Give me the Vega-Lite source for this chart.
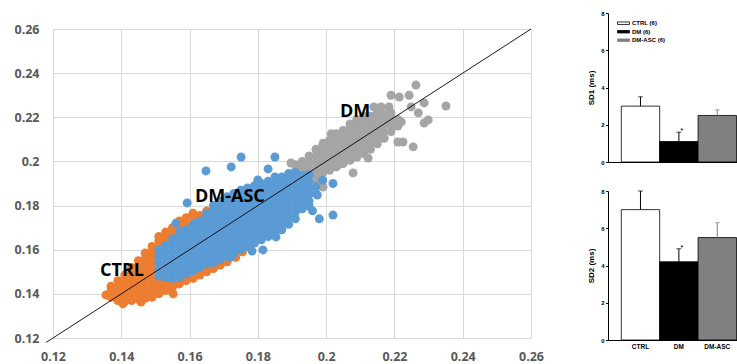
{
  "$schema": "https://vega.github.io/schema/vega-lite/v6.json",
  "autosize": {"type": "pad"},
  "padding": {"left": 13, "top": 10, "right": 0, "bottom": 0},
  "background": "white",
  "config": {"view": {"stroke": null}, "font": "Liberation Sans", "axis": {"labelOverlap": false, "labelBound": false}},
  "datasets": {
    "ctrl": [
      {"x":0.1355,"y":0.1395},
      {"x":0.137,"y":0.1385},{"x":0.137,"y":0.1415},{"x":0.137,"y":0.1435},
      {"x":0.139,"y":0.137},{"x":0.139,"y":0.14},{"x":0.139,"y":0.143},{"x":0.139,"y":0.146},
      {"x":0.141,"y":0.1365},{"x":0.141,"y":0.1395},{"x":0.141,"y":0.1425},{"x":0.141,"y":0.1455},{"x":0.141,"y":0.1485},
      {"x":0.143,"y":0.137},{"x":0.143,"y":0.14},{"x":0.143,"y":0.143},{"x":0.143,"y":0.146},{"x":0.143,"y":0.149},{"x":0.143,"y":0.152},
      {"x":0.145,"y":0.1375},{"x":0.145,"y":0.1405},{"x":0.145,"y":0.1435},{"x":0.145,"y":0.1465},{"x":0.145,"y":0.1495},{"x":0.145,"y":0.1525},{"x":0.145,"y":0.155},
      {"x":0.147,"y":0.138},{"x":0.147,"y":0.141},{"x":0.147,"y":0.144},{"x":0.147,"y":0.147},{"x":0.147,"y":0.15},{"x":0.147,"y":0.153},{"x":0.147,"y":0.156},{"x":0.147,"y":0.1585},
      {"x":0.149,"y":0.1385},{"x":0.149,"y":0.1415},{"x":0.149,"y":0.1445},{"x":0.149,"y":0.1475},{"x":0.149,"y":0.1505},{"x":0.149,"y":0.1535},{"x":0.149,"y":0.1565},{"x":0.149,"y":0.1595},{"x":0.149,"y":0.1615},
      {"x":0.151,"y":0.14},{"x":0.151,"y":0.143},{"x":0.151,"y":0.146},{"x":0.151,"y":0.161},{"x":0.151,"y":0.164},{"x":0.151,"y":0.166},
      {"x":0.153,"y":0.1415},{"x":0.153,"y":0.1445},{"x":0.153,"y":0.1635},{"x":0.153,"y":0.1665},{"x":0.153,"y":0.168},
      {"x":0.155,"y":0.143},{"x":0.155,"y":0.146},{"x":0.155,"y":0.1675},{"x":0.155,"y":0.17},
      {"x":0.157,"y":0.1445},{"x":0.157,"y":0.1705},{"x":0.157,"y":0.173},
      {"x":0.159,"y":0.146},{"x":0.159,"y":0.1715},{"x":0.159,"y":0.1745},
      {"x":0.161,"y":0.147},{"x":0.161,"y":0.1745},{"x":0.161,"y":0.1765},
      {"x":0.163,"y":0.1485},{"x":0.163,"y":0.1755},
      {"x":0.165,"y":0.15},{"x":0.165,"y":0.1775},
      {"x":0.167,"y":0.1515},{"x":0.169,"y":0.153},{"x":0.171,"y":0.1545},{"x":0.1735,"y":0.1565},{"x":0.1755,"y":0.159},{"x":0.1765,"y":0.1625},
      {"x":0.1552,"y":0.14},{"x":0.1405,"y":0.1355},{"x":0.1458,"y":0.1363}
    ],
    "dm": [
      {"x":0.191,"y":0.1955},{"x":0.191,"y":0.1985},
      {"x":0.193,"y":0.1945},{"x":0.193,"y":0.1975},{"x":0.193,"y":0.2},
      {"x":0.195,"y":0.1935},{"x":0.195,"y":0.1965},{"x":0.195,"y":0.1995},{"x":0.195,"y":0.2025},
      {"x":0.197,"y":0.1935},{"x":0.197,"y":0.1965},{"x":0.197,"y":0.1995},{"x":0.197,"y":0.2025},{"x":0.197,"y":0.2055},
      {"x":0.199,"y":0.195},{"x":0.199,"y":0.198},{"x":0.199,"y":0.201},{"x":0.199,"y":0.204},{"x":0.199,"y":0.207},
      {"x":0.201,"y":0.196},{"x":0.201,"y":0.199},{"x":0.201,"y":0.202},{"x":0.201,"y":0.205},{"x":0.201,"y":0.208},{"x":0.201,"y":0.2095},
      {"x":0.203,"y":0.1975},{"x":0.203,"y":0.2005},{"x":0.203,"y":0.2035},{"x":0.203,"y":0.2065},{"x":0.203,"y":0.2095},{"x":0.203,"y":0.2125},
      {"x":0.205,"y":0.199},{"x":0.205,"y":0.202},{"x":0.205,"y":0.205},{"x":0.205,"y":0.208},{"x":0.205,"y":0.211},{"x":0.205,"y":0.214},
      {"x":0.207,"y":0.2005},{"x":0.207,"y":0.2035},{"x":0.207,"y":0.2065},{"x":0.207,"y":0.2095},{"x":0.207,"y":0.2125},{"x":0.207,"y":0.2155},{"x":0.207,"y":0.217},
      {"x":0.209,"y":0.202},{"x":0.209,"y":0.205},{"x":0.209,"y":0.208},{"x":0.209,"y":0.211},{"x":0.209,"y":0.214},{"x":0.209,"y":0.217},{"x":0.209,"y":0.219},
      {"x":0.211,"y":0.2035},{"x":0.211,"y":0.2065},{"x":0.211,"y":0.2095},{"x":0.211,"y":0.2125},{"x":0.211,"y":0.2155},{"x":0.211,"y":0.2185},{"x":0.211,"y":0.2205},
      {"x":0.213,"y":0.2055},{"x":0.213,"y":0.2085},{"x":0.213,"y":0.2115},{"x":0.213,"y":0.2145},{"x":0.213,"y":0.2175},{"x":0.213,"y":0.2205},
      {"x":0.215,"y":0.208},{"x":0.215,"y":0.211},{"x":0.215,"y":0.214},{"x":0.215,"y":0.217},{"x":0.215,"y":0.22},{"x":0.215,"y":0.222},
      {"x":0.217,"y":0.2105},{"x":0.217,"y":0.2135},{"x":0.217,"y":0.2165},{"x":0.217,"y":0.2195},{"x":0.217,"y":0.2215},
      {"x":0.219,"y":0.2135},{"x":0.219,"y":0.2165},{"x":0.219,"y":0.2195},{"x":0.219,"y":0.222},
      {"x":0.221,"y":0.216},{"x":0.221,"y":0.219},
      {"x":0.2263,"y":0.2346},{"x":0.2351,"y":0.2251},{"x":0.219,"y":0.23},{"x":0.2214,"y":0.2292},{"x":0.2243,"y":0.23},
      {"x":0.2161,"y":0.2247},{"x":0.2184,"y":0.2247},{"x":0.2299,"y":0.2188},{"x":0.2287,"y":0.2174},{"x":0.227,"y":0.222},
      {"x":0.222,"y":0.2179},{"x":0.2225,"y":0.2088},{"x":0.221,"y":0.2088},{"x":0.2255,"y":0.2066},{"x":0.1991,"y":0.2083},
      {"x":0.2079,"y":0.1948},{"x":0.1991,"y":0.1884},{"x":0.2123,"y":0.2015},{"x":0.2035,"y":0.1984},{"x":0.1897,"y":0.1993},
      {"x":0.1974,"y":0.1907},{"x":0.2249,"y":0.2247},{"x":0.2287,"y":0.2265},{"x":0.214,"y":0.2247},{"x":0.2015,"y":0.2125}
    ],
    "dmasc": [
      {"x":0.151,"y":0.148},{"x":0.151,"y":0.151},{"x":0.151,"y":0.154},{"x":0.151,"y":0.157},{"x":0.151,"y":0.16},
      {"x":0.153,"y":0.1475},{"x":0.153,"y":0.1505},{"x":0.153,"y":0.1535},{"x":0.153,"y":0.1565},{"x":0.153,"y":0.1595},{"x":0.153,"y":0.162},
      {"x":0.155,"y":0.147},{"x":0.155,"y":0.15},{"x":0.155,"y":0.153},{"x":0.155,"y":0.156},{"x":0.155,"y":0.159},{"x":0.155,"y":0.162},{"x":0.155,"y":0.165},
      {"x":0.157,"y":0.1475},{"x":0.157,"y":0.1505},{"x":0.157,"y":0.1535},{"x":0.157,"y":0.1565},{"x":0.157,"y":0.1595},{"x":0.157,"y":0.1625},{"x":0.157,"y":0.1655},{"x":0.157,"y":0.168},
      {"x":0.159,"y":0.149},{"x":0.159,"y":0.152},{"x":0.159,"y":0.155},{"x":0.159,"y":0.158},{"x":0.159,"y":0.161},{"x":0.159,"y":0.164},{"x":0.159,"y":0.167},{"x":0.159,"y":0.169},
      {"x":0.161,"y":0.1505},{"x":0.161,"y":0.1535},{"x":0.161,"y":0.1565},{"x":0.161,"y":0.1595},{"x":0.161,"y":0.1625},{"x":0.161,"y":0.1655},{"x":0.161,"y":0.1685},{"x":0.161,"y":0.1715},
      {"x":0.163,"y":0.152},{"x":0.163,"y":0.155},{"x":0.163,"y":0.158},{"x":0.163,"y":0.161},{"x":0.163,"y":0.164},{"x":0.163,"y":0.167},{"x":0.163,"y":0.17},{"x":0.163,"y":0.173},
      {"x":0.165,"y":0.1535},{"x":0.165,"y":0.1565},{"x":0.165,"y":0.1595},{"x":0.165,"y":0.1625},{"x":0.165,"y":0.1655},{"x":0.165,"y":0.1685},{"x":0.165,"y":0.1715},{"x":0.165,"y":0.1745},{"x":0.165,"y":0.1765},
      {"x":0.167,"y":0.154},{"x":0.167,"y":0.157},{"x":0.167,"y":0.16},{"x":0.167,"y":0.163},{"x":0.167,"y":0.166},{"x":0.167,"y":0.169},{"x":0.167,"y":0.172},{"x":0.167,"y":0.175},{"x":0.167,"y":0.178},{"x":0.167,"y":0.18},
      {"x":0.169,"y":0.1555},{"x":0.169,"y":0.1585},{"x":0.169,"y":0.1615},{"x":0.169,"y":0.1645},{"x":0.169,"y":0.1675},{"x":0.169,"y":0.1705},{"x":0.169,"y":0.1735},{"x":0.169,"y":0.1765},{"x":0.169,"y":0.1795},{"x":0.169,"y":0.182},
      {"x":0.171,"y":0.157},{"x":0.171,"y":0.16},{"x":0.171,"y":0.163},{"x":0.171,"y":0.166},{"x":0.171,"y":0.169},{"x":0.171,"y":0.172},{"x":0.171,"y":0.175},{"x":0.171,"y":0.178},{"x":0.171,"y":0.181},{"x":0.171,"y":0.184},
      {"x":0.173,"y":0.1585},{"x":0.173,"y":0.1615},{"x":0.173,"y":0.1645},{"x":0.173,"y":0.1675},{"x":0.173,"y":0.1705},{"x":0.173,"y":0.1735},{"x":0.173,"y":0.1765},{"x":0.173,"y":0.1795},{"x":0.173,"y":0.1825},{"x":0.173,"y":0.1855},
      {"x":0.175,"y":0.16},{"x":0.175,"y":0.163},{"x":0.175,"y":0.166},{"x":0.175,"y":0.169},{"x":0.175,"y":0.172},{"x":0.175,"y":0.175},{"x":0.175,"y":0.178},{"x":0.175,"y":0.181},{"x":0.175,"y":0.184},{"x":0.175,"y":0.187},
      {"x":0.177,"y":0.1615},{"x":0.177,"y":0.1645},{"x":0.177,"y":0.1675},{"x":0.177,"y":0.1705},{"x":0.177,"y":0.1735},{"x":0.177,"y":0.1765},{"x":0.177,"y":0.1795},{"x":0.177,"y":0.1825},{"x":0.177,"y":0.1855},{"x":0.177,"y":0.188},
      {"x":0.179,"y":0.163},{"x":0.179,"y":0.166},{"x":0.179,"y":0.169},{"x":0.179,"y":0.172},{"x":0.179,"y":0.175},{"x":0.179,"y":0.178},{"x":0.179,"y":0.181},{"x":0.179,"y":0.184},{"x":0.179,"y":0.187},{"x":0.179,"y":0.189},
      {"x":0.181,"y":0.1645},{"x":0.181,"y":0.1675},{"x":0.181,"y":0.1705},{"x":0.181,"y":0.1735},{"x":0.181,"y":0.1765},{"x":0.181,"y":0.1795},{"x":0.181,"y":0.1825},{"x":0.181,"y":0.1855},{"x":0.181,"y":0.1885},{"x":0.181,"y":0.19},
      {"x":0.183,"y":0.166},{"x":0.183,"y":0.169},{"x":0.183,"y":0.172},{"x":0.183,"y":0.175},{"x":0.183,"y":0.178},{"x":0.183,"y":0.181},{"x":0.183,"y":0.184},{"x":0.183,"y":0.187},{"x":0.183,"y":0.19},{"x":0.183,"y":0.191},
      {"x":0.185,"y":0.1675},{"x":0.185,"y":0.1705},{"x":0.185,"y":0.1735},{"x":0.185,"y":0.1765},{"x":0.185,"y":0.1795},{"x":0.185,"y":0.1825},{"x":0.185,"y":0.1855},{"x":0.185,"y":0.1885},{"x":0.185,"y":0.1915},{"x":0.185,"y":0.193},
      {"x":0.187,"y":0.169},{"x":0.187,"y":0.172},{"x":0.187,"y":0.175},{"x":0.187,"y":0.178},{"x":0.187,"y":0.181},{"x":0.187,"y":0.184},{"x":0.187,"y":0.187},{"x":0.187,"y":0.19},{"x":0.187,"y":0.193},
      {"x":0.189,"y":0.1715},{"x":0.189,"y":0.1745},{"x":0.189,"y":0.1775},{"x":0.189,"y":0.1805},{"x":0.189,"y":0.1835},{"x":0.189,"y":0.1865},{"x":0.189,"y":0.1895},{"x":0.189,"y":0.1925},{"x":0.189,"y":0.1945},
      {"x":0.191,"y":0.174},{"x":0.191,"y":0.177},{"x":0.191,"y":0.18},{"x":0.191,"y":0.183},{"x":0.191,"y":0.186},{"x":0.191,"y":0.189},{"x":0.191,"y":0.192},{"x":0.191,"y":0.195},
      {"x":0.193,"y":0.1785},{"x":0.193,"y":0.1815},{"x":0.193,"y":0.1845},{"x":0.193,"y":0.1875},{"x":0.193,"y":0.1905},{"x":0.193,"y":0.1935},
      {"x":0.195,"y":0.182},{"x":0.195,"y":0.185},{"x":0.195,"y":0.188},{"x":0.195,"y":0.191},{"x":0.195,"y":0.194},
      {"x":0.197,"y":0.1855},{"x":0.197,"y":0.1885},{"x":0.199,"y":0.1915},
      {"x":0.1648,"y":0.1957},{"x":0.1722,"y":0.1975},{"x":0.1751,"y":0.202},{"x":0.185,"y":0.202},{"x":0.183,"y":0.1966},
      {"x":0.18,"y":0.1916},{"x":0.1593,"y":0.1812},{"x":0.202,"y":0.19},{"x":0.1974,"y":0.1848},{"x":0.195,"y":0.1798},
      {"x":0.196,"y":0.1776},{"x":0.198,"y":0.174},{"x":0.202,"y":0.1757},{"x":0.1853,"y":0.1658},{"x":0.1815,"y":0.1599},
      {"x":0.1783,"y":0.1594},{"x":0.172,"y":0.1567},{"x":0.156,"y":0.172}
    ],
    "diag": [{"x":0.118,"y":0.118},{"x":0.26,"y":0.26}],
    "labels": [
      {"x":0.1402,"y":0.1504,"label":"CTRL"},
      {"x":0.1718,"y":0.1839,"label":"DM-ASC"},
      {"x":0.2085,"y":0.2224,"label":"DM"}
    ],
    "bars": [
      {"group":"CTRL","sd1":3.0,"sd1Upper":3.5,"sd2":7.0,"sd2Upper":8.0,"star":""},
      {"group":"DM","sd1":1.1,"sd1Upper":1.6,"sd2":4.2,"sd2Upper":4.9,"star":"*"},
      {"group":"DM-ASC","sd1":2.5,"sd1Upper":2.8,"sd2":5.5,"sd2Upper":6.3,"star":""}
    ]
  },
  "spacing": 43,
  "bounds": "full",
  "hconcat": [
    {
      "spacing": 15,
      "bounds": "flush",
      "vconcat": [
        {"width": 478, "height": 1, "data": {"values": [{}]}, "mark": {"type": "point", "opacity": 0}},
        {
          "width": 478,
          "height": 309,
          "encoding": {
            "x": {"field": "x", "type": "quantitative",
              "scale": {"domain": [0.12, 0.26], "nice": false, "zero": false},
              "axis": {"values": [0.12, 0.14, 0.16, 0.18, 0.2, 0.22, 0.24, 0.26], "format": "~g", "grid": true, "gridColor": "#D9D9D9", "gridWidth": 1, "domain": false, "ticks": false, "labelFont": "Open Sans", "labelFontWeight": "bold", "labelFontSize": 12.5, "labelColor": "#595959", "labelPadding": 12, "labelFlush": false, "labelOverlap": false, "title": null}},
            "y": {"field": "y", "type": "quantitative",
              "scale": {"domain": [0.12, 0.26], "nice": false, "zero": false},
              "axis": {"values": [0.12, 0.14, 0.16, 0.18, 0.2, 0.22, 0.24, 0.26], "format": "~g", "grid": true, "gridColor": "#D9D9D9", "gridWidth": 1, "domain": false, "ticks": false, "labelFont": "Open Sans", "labelFontWeight": "bold", "labelFontSize": 12.5, "labelColor": "#595959", "labelPadding": 14, "labelFlush": false, "labelOverlap": false, "title": null}}
          },
          "layer": [
            {"data": {"name": "ctrl"}, "mark": {"type": "circle", "size": 80, "color": "#ED7D31", "opacity": 1}},
            {"data": {"name": "dm"}, "mark": {"type": "circle", "size": 80, "color": "#A5A5A5", "opacity": 1}},
            {"data": {"name": "dmasc"}, "mark": {"type": "circle", "size": 80, "color": "#5B9BD5", "opacity": 1}},
            {"data": {"name": "diag"}, "mark": {"type": "line", "color": "#000000", "strokeWidth": 0.9, "clip": false}, "encoding": {}},
            {"data": {"name": "labels"}, "mark": {"type": "text", "font": "Open Sans", "fontWeight": "bold", "fontSize": 18, "color": "#000000", "align": "center", "baseline": "middle"}, "encoding": {"text": {"field": "label"}}}
          ]
        }
      ]
    },
    {
      "spacing": 29,
      "bounds": "flush",
      "resolve": {"scale": {"fill": "independent", "stroke": "independent", "color": "independent"}},
      "vconcat": [
        {
          "width": 131,
          "height": 149,
          "data": {"name": "bars"},
          "encoding": {
            "x": {"field": "group", "type": "nominal", "sort": ["CTRL", "DM", "DM-ASC"],
              "scale": {"paddingInner": 0, "paddingOuter": 0.206, "align": 0.84},
              "axis": {"labels": false, "ticks": false, "domainColor": "#000000", "title": null}}
          },
          "layer": [
            {"mark": {"type": "bar", "stroke": "#000000", "strokeWidth": 0.8},
              "encoding": {
                "y": {"field": "sd1", "type": "quantitative", "scale": {"domain": [0, 8], "nice": false},
                  "axis": {"values": [0, 2, 4, 6, 8], "tickCount": 5, "labelOverlap": false, "labelSeparation": 0, "tickSize": 2.5, "tickColor": "#000000", "domainColor": "#000000", "labelFont": "Liberation Sans", "labelFontWeight": "bold", "labelFontSize": 6, "labelColor": "#000000", "labelPadding": 1.5, "labelFlush": false, "grid": false, "title": "SD1 (ms)", "titleFont": "Liberation Sans", "titleFontSize": 8, "titleFontWeight": "bold", "titleColor": "#000000", "titlePadding": 5}},
                "fill": {"field": "group", "type": "nominal",
                  "scale": {"domain": ["CTRL", "DM", "DM-ASC"], "range": ["#FFFFFF", "#000000", "#808080"]},
                  "legend": {"orient": "none", "legendX": 10.5, "legendY": 5.2, "title": null, "symbolType": "M-1.33,-0.28H1.33V0.28H-1.33Z", "symbolSize": 81, "symbolStrokeColor": "#000000", "symbolStrokeWidth": 0.8, "symbolOpacity": 1, "labelFont": "Liberation Sans", "labelFontWeight": "bold", "labelFontSize": 6, "labelColor": "#000000", "labelOffset": 3.5, "rowPadding": 0.5, "labelExpr": "datum.label + ' (6)'"}}
              }},
            {"mark": {"type": "rule", "strokeWidth": 1},
              "encoding": {
                "y": {"field": "sd1", "type": "quantitative"},
                "y2": {"field": "sd1Upper"},
                "stroke": {"field": "group", "type": "nominal", "scale": {"domain": ["CTRL", "DM", "DM-ASC"], "range": ["#000000", "#000000", "#808080"]}, "legend": null}
              }},
            {"mark": {"type": "tick", "orient": "horizontal", "size": 5, "thickness": 1},
              "encoding": {
                "y": {"field": "sd1Upper", "type": "quantitative"},
                "color": {"field": "group", "type": "nominal", "scale": {"domain": ["CTRL", "DM", "DM-ASC"], "range": ["#000000", "#000000", "#808080"]}, "legend": null}
              }},
            {"mark": {"type": "text", "dx": 3, "dy": -1, "fontSize": 8, "baseline": "middle", "color": "#000000"},
              "encoding": {
                "y": {"field": "sd1Upper", "type": "quantitative"},
                "text": {"field": "star"}
              }}
          ]
        },
        {
          "width": 131,
          "height": 149,
          "data": {"name": "bars"},
          "encoding": {
            "x": {"field": "group", "type": "nominal", "sort": ["CTRL", "DM", "DM-ASC"],
              "scale": {"paddingInner": 0, "paddingOuter": 0.206, "align": 0.84},
              "axis": {"labelFont": "Liberation Sans", "labelFontWeight": "bold", "labelFontSize": 6.5, "labelColor": "#000000", "labelAngle": 0, "labelPadding": 3, "ticks": false, "domainColor": "#000000", "title": null}}
          },
          "layer": [
            {"mark": {"type": "bar", "stroke": "#000000", "strokeWidth": 0.8},
              "encoding": {
                "y": {"field": "sd2", "type": "quantitative", "scale": {"domain": [0, 8], "nice": false},
                  "axis": {"values": [0, 2, 4, 6, 8], "tickCount": 5, "labelOverlap": false, "labelSeparation": 0, "tickSize": 2.5, "tickColor": "#000000", "domainColor": "#000000", "labelFont": "Liberation Sans", "labelFontWeight": "bold", "labelFontSize": 6, "labelColor": "#000000", "labelPadding": 1.5, "labelFlush": false, "grid": false, "title": "SD2 (ms)", "titleFont": "Liberation Sans", "titleFontSize": 8, "titleFontWeight": "bold", "titleColor": "#000000", "titlePadding": 5}},
                "fill": {"field": "group", "type": "nominal",
                  "scale": {"domain": ["CTRL", "DM", "DM-ASC"], "range": ["#FFFFFF", "#000000", "#808080"]},
                  "legend": null}
              }},
            {"mark": {"type": "rule", "strokeWidth": 1},
              "encoding": {
                "y": {"field": "sd2", "type": "quantitative"},
                "y2": {"field": "sd2Upper"},
                "stroke": {"field": "group", "type": "nominal", "scale": {"domain": ["CTRL", "DM", "DM-ASC"], "range": ["#000000", "#000000", "#808080"]}, "legend": null}
              }},
            {"mark": {"type": "tick", "orient": "horizontal", "size": 5, "thickness": 1},
              "encoding": {
                "y": {"field": "sd2Upper", "type": "quantitative"},
                "color": {"field": "group", "type": "nominal", "scale": {"domain": ["CTRL", "DM", "DM-ASC"], "range": ["#000000", "#000000", "#808080"]}, "legend": null}
              }},
            {"mark": {"type": "text", "dx": 3, "dy": -1, "fontSize": 8, "baseline": "middle", "color": "#000000"},
              "encoding": {
                "y": {"field": "sd2Upper", "type": "quantitative"},
                "text": {"field": "star"}
              }}
          ]
        }
      ]
    }
  ]
}
